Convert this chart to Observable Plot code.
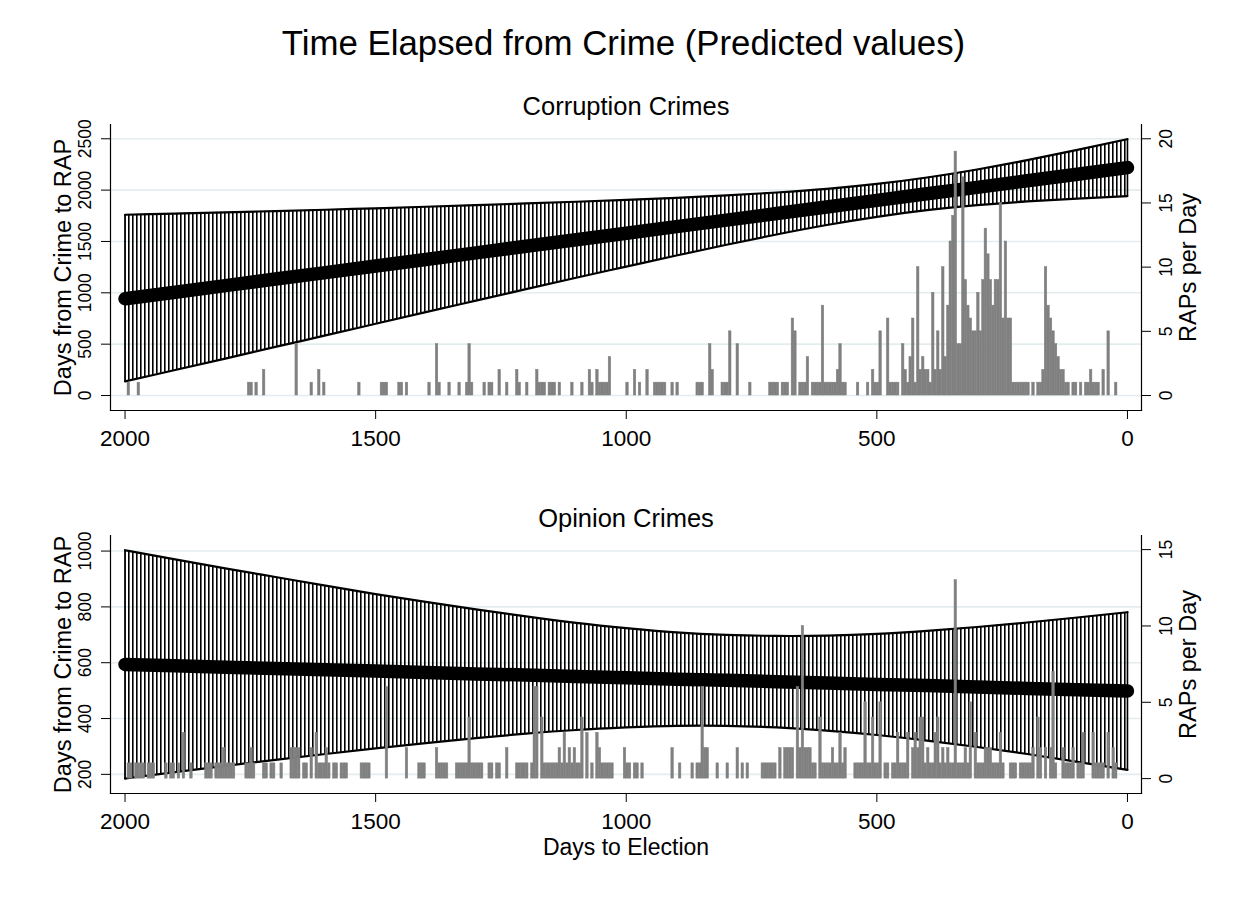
<!DOCTYPE html>
<html><head><meta charset="utf-8">
<script src="https://cdn.jsdelivr.net/npm/d3@7"></script>
<script src="https://cdn.jsdelivr.net/npm/@observablehq/plot@0.6"></script>
<style>
body{margin:0;background:#fff;}
#page{position:relative;width:1239px;height:905px;background:#fff;font-family:'Liberation Sans',Arial,sans-serif;overflow:hidden;}
#title{position:absolute;left:4px;width:1239px;top:22px;text-align:center;font-size:34.8px;line-height:42px;color:#000;}
.panel{position:absolute;left:0;}
</style></head><body>
<div id="page">
<div id="title">Time Elapsed from Crime (Predicted values)</div>
<div id="p1" class="panel" style="top:84px"></div>
<div id="p2" class="panel" style="top:495px"></div>
</div>
<script>
// ---- data ----
const ciDays = [0,100,200,300,400,500,600,700,800,900,1000,1100,1200,1300,1400,1500,1600,1700,1800,1900,2000];
const corrLower = [1942,1918,1890,1853,1805,1740,1660,1568,1468,1363,1255,1147,1036,924,812,699,585,473,359,248,138];
const corrPred  = [2219,2155,2091,2027,1964,1900,1836,1772,1708,1644,1580,1517,1453,1389,1325,1261,1197,1134,1070,1006,942];
const corrUpper = [2496,2392,2292,2201,2123,2060,2012,1977,1948,1925,1905,1887,1870,1854,1838,1823,1809,1796,1784,1772,1760];
const opinLower = [216,245,273,298,321,341,357,368,374,374,368,359,346,330,312,293,273,252,230,208,185];
const opinPred  = [499,503,508,513,518,522,527,532,537,541,546,551,556,560,565,570,575,579,584,589,594];
const opinUpper = [781,762,744,728,714,703,697,696,700,709,724,743,766,791,818,846,876,907,938,970,1003];

const corrHistDays = [1990,1970,1750,1745,1735,1720,1655,1625,1610,1600,1530,1485,1480,1475,1450,1445,1435,1390,1375,1370,1350,1330,1315,1310,1305,1280,1270,1265,1250,1235,1215,1210,1195,1175,1170,1165,1160,1150,1145,1140,1130,1105,1085,1070,1065,1055,1050,1045,1040,1035,1030,995,980,970,955,940,935,930,925,920,905,895,855,850,845,830,825,805,800,795,790,775,750,710,705,700,695,685,680,675,665,660,650,645,640,635,625,620,615,610,605,600,595,590,585,580,575,570,565,560,535,515,505,500,495,490,475,470,465,460,455,445,440,435,430,425,420,415,410,405,400,395,390,385,380,375,370,365,360,355,350,345,340,335,330,325,320,315,310,305,300,295,290,285,280,275,270,265,260,255,250,245,240,235,230,225,220,215,210,205,200,195,185,175,170,165,160,155,150,145,140,135,130,125,120,115,105,100,90,80,75,70,65,60,55,45,35,20];
const corrHistCounts = [1,1,1,1,1,2,4,1,2,1,1,1,1,1,1,1,1,1,4,1,1,1,1,4,1,1,1,1,2,1,2,1,1,2,1,1,1,1,1,1,1,1,1,2,1,2,1,1,1,1,3,1,2,1,2,1,1,1,1,1,1,1,1,1,1,4,2,1,1,1,5,4,1,1,1,1,1,1,1,1,6,5,1,1,1,3,1,1,1,1,7,1,1,1,1,1,2,4,1,1,1,1,2,1,1,5,6,1,1,1,1,4,2,1,3,6,1,10,2,3,2,2,1,8,2,5,2,10,3,7,12,14,19,4,4,17,9,7,6,5,5,8,5,9,13,11,9,7,9,9,15,6,12,6,6,1,1,1,1,1,1,1,1,1,1,2,10,7,6,5,4,3,2,2,1,1,1,1,1,1,1,2,1,1,1,2,5,1];

const opinHistDays = [1990,1985,1975,1970,1965,1960,1950,1945,1940,1915,1905,1900,1890,1880,1865,1835,1830,1825,1815,1810,1805,1800,1795,1790,1785,1780,1755,1750,1745,1740,1720,1715,1705,1700,1685,1665,1660,1655,1650,1640,1635,1625,1615,1610,1605,1600,1595,1590,1580,1575,1565,1560,1555,1525,1520,1515,1510,1475,1435,1410,1405,1400,1375,1370,1365,1360,1355,1335,1330,1325,1320,1315,1310,1305,1300,1295,1290,1285,1270,1265,1255,1250,1235,1215,1210,1205,1200,1195,1185,1180,1175,1165,1160,1155,1150,1145,1140,1135,1130,1125,1120,1115,1110,1105,1100,1095,1090,1085,1075,1065,1055,1050,1045,1040,1035,1030,1025,1000,995,990,980,975,965,905,890,865,855,850,845,840,835,815,795,775,765,755,725,720,715,710,705,700,690,680,675,670,665,655,650,645,640,635,630,625,620,610,605,600,595,590,585,580,575,570,565,560,540,535,530,525,520,515,510,505,500,495,490,480,475,465,460,455,450,445,440,435,425,420,415,410,405,400,395,390,385,380,375,370,365,360,355,350,345,340,335,330,325,320,315,310,300,295,290,285,280,275,270,265,260,255,250,245,230,225,220,210,205,200,195,190,185,175,170,160,150,145,140,125,120,115,110,105,95,90,85,65,60,55,50,45,35,25,20];
const opinHistCounts = [1,1,1,1,1,1,1,1,1,1,1,1,1,3,1,1,1,1,1,1,1,2,1,1,1,1,1,1,2,1,1,1,1,1,1,2,2,2,2,1,1,2,3,1,1,1,2,1,1,1,1,1,1,1,1,1,1,6,2,1,1,1,2,1,1,1,1,1,1,1,1,1,4,1,1,1,1,1,1,1,1,1,2,1,1,1,1,1,1,6,6,4,1,1,1,1,1,1,2,1,3,1,2,1,2,1,1,4,3,1,3,2,1,1,1,1,1,2,1,1,1,1,1,2,1,1,1,1,6,2,2,1,1,2,1,1,1,1,1,1,1,1,2,2,2,2,2,6,2,10,2,2,2,1,1,4,1,1,1,1,2,1,1,3,1,2,1,1,1,1,5,1,1,4,1,1,5,1,1,1,1,3,1,1,1,3,2,3,2,4,4,1,2,1,1,3,4,1,2,1,2,1,1,13,1,1,1,2,1,5,3,1,1,1,2,2,2,1,1,1,3,1,1,1,1,1,1,1,1,1,2,4,2,2,2,7,1,2,1,1,1,2,1,1,3,3,1,1,1,1,3,2,1];

const xTicks = [2000,1500,1000,500,0];
const corrLeftTicks = [0,500,1000,1500,2000,2500];
const corrRightTicks = [0,5,10,15,20];
const opinLeftTicks = [200,400,600,800,1000];
const opinRightTicks = [0,5,10,15];

const FONT = "'Liberation Sans', Arial, sans-serif";

function drawPanel(cfg) {
  const ci = cfg.days.map((d, i) => ({day: d, lo: cfg.lower[i], pred: cfg.pred[i], hi: cfg.upper[i]}));
  const hist = cfg.histDays.map((d, i) => ({day: d, n: cfg.histCounts[i]}));
  const toLeft = v => cfg.r0 + v * cfg.rk;
  const marks = [
    Plot.ruleY(cfg.leftTicks, {stroke: "#e3ecee", strokeWidth: 1.6}),
    Plot.areaY(ci, {x: "day", y1: "lo", y2: "hi", fill: `url(#${cfg.id})`, curve: "natural"}),
    Plot.ruleX([ci[0], ci[ci.length - 1]], {x: "day", y1: "lo", y2: "hi", stroke: "#000", strokeWidth: 1.6}),
    Plot.line(ci, {x: "day", y: "hi", stroke: "#000", strokeWidth: 2.2, curve: "natural"}),
    Plot.line(ci, {x: "day", y: "lo", stroke: "#000", strokeWidth: 2.2, curve: "natural"}),
    Plot.line(ci, {x: "day", y: "pred", stroke: "#000", strokeWidth: 13.5, strokeLinecap: "round"}),
    Plot.rect(hist, {x1: "day", x2: d => d.day + 5, y1: () => toLeft(0), y2: d => toLeft(d.n), fill: "#808080", stroke: "#808080", strokeWidth: 0.5}),
    Plot.frame({anchor: "left", stroke: "#000", strokeWidth: 1.2}),
    Plot.frame({anchor: "right", stroke: "#000", strokeWidth: 1.2}),
    Plot.frame({anchor: "bottom", stroke: "#000", strokeWidth: 1.2}),
    Plot.axisX({ticks: xTicks, tickSize: 9, tickPadding: 11, label: null, fontSize: 22.5, tickFormat: d => String(d)}),
    Plot.axisY({ticks: cfg.leftTicks, anchor: "left", tickSize: 9, tickFormat: () => "", label: null}),
    Plot.text(cfg.leftTicks, {y: d => d, text: d => String(d), frameAnchor: "left", dx: -25, rotate: -90, textAnchor: "middle", lineAnchor: "middle", fontSize: 17.5}),
    Plot.axisY({ticks: cfg.rightTicks.map(toLeft), anchor: "right", tickSize: 9, tickFormat: () => "", label: null}),
    Plot.text(cfg.rightTicks, {y: d => toLeft(d), text: d => String(d), frameAnchor: "right", dx: 25, rotate: -90, textAnchor: "middle", lineAnchor: "middle", fontSize: 17.5}),
    Plot.text(["Days from Crime to RAP"], {text: d => d, frameAnchor: "left", dx: -47, rotate: -90, textAnchor: "middle", lineAnchor: "middle", fontSize: 23.5}),
    Plot.text(["RAPs per Day"], {text: d => d, frameAnchor: "right", dx: 47, rotate: -90, textAnchor: "middle", lineAnchor: "middle", fontSize: 23.5}),
    Plot.text([cfg.title], {text: d => d, frameAnchor: "top", dy: cfg.titleDy, textAnchor: "middle", lineAnchor: "middle", fontSize: 25.5})
  ];
  if (cfg.xlabel) marks.push(Plot.text([cfg.xlabel], {text: d => d, frameAnchor: "bottom", dy: 54, textAnchor: "middle", lineAnchor: "middle", fontSize: 23}));
  const svg = Plot.plot({
    width: 1239, height: cfg.height,
    marginLeft: 110, marginRight: 98, marginTop: 40, marginBottom: cfg.marginBottom,
    style: {fontFamily: FONT, fontSize: "23px", color: "#000", background: "transparent", overflow: "visible"},
    x: {domain: [2029, -28]},
    y: {domain: cfg.yDomain},
    marks
  });
  const defs = d3.select(svg).insert("defs", ":first-child");
  const pat = defs.append("pattern").attr("id", cfg.id).attr("patternUnits", "userSpaceOnUse")
    .attr("x", 124).attr("y", 0).attr("width", 4).attr("height", 10);
  pat.append("rect").attr("x", 0).attr("y", 0).attr("width", 1.6).attr("height", 10).attr("fill", "#000");
  document.getElementById(cfg.el).appendChild(svg);
}

drawPanel({
  el: "p1", id: "hatch1", title: "Corruption Crimes", titleDy: -18,
  days: ciDays, lower: corrLower, pred: corrPred, upper: corrUpper,
  histDays: corrHistDays, histCounts: corrHistCounts,
  leftTicks: corrLeftTicks, rightTicks: corrRightTicks, r0: 0, rk: 125,
  yDomain: [-146, 2639], height: 376, marginBottom: 50
});
drawPanel({
  el: "p2", id: "hatch2", title: "Opinion Crimes", titleDy: -17, xlabel: "Days to Election",
  days: ciDays, lower: opinLower, pred: opinPred, upper: opinUpper,
  histDays: opinHistDays, histCounts: opinHistCounts,
  leftTicks: opinLeftTicks, rightTicks: opinRightTicks, r0: 184.7, rk: 54.7,
  yDomain: [131.4, 1055.8], height: 370, marginBottom: 72
});
</script>
</body></html>
